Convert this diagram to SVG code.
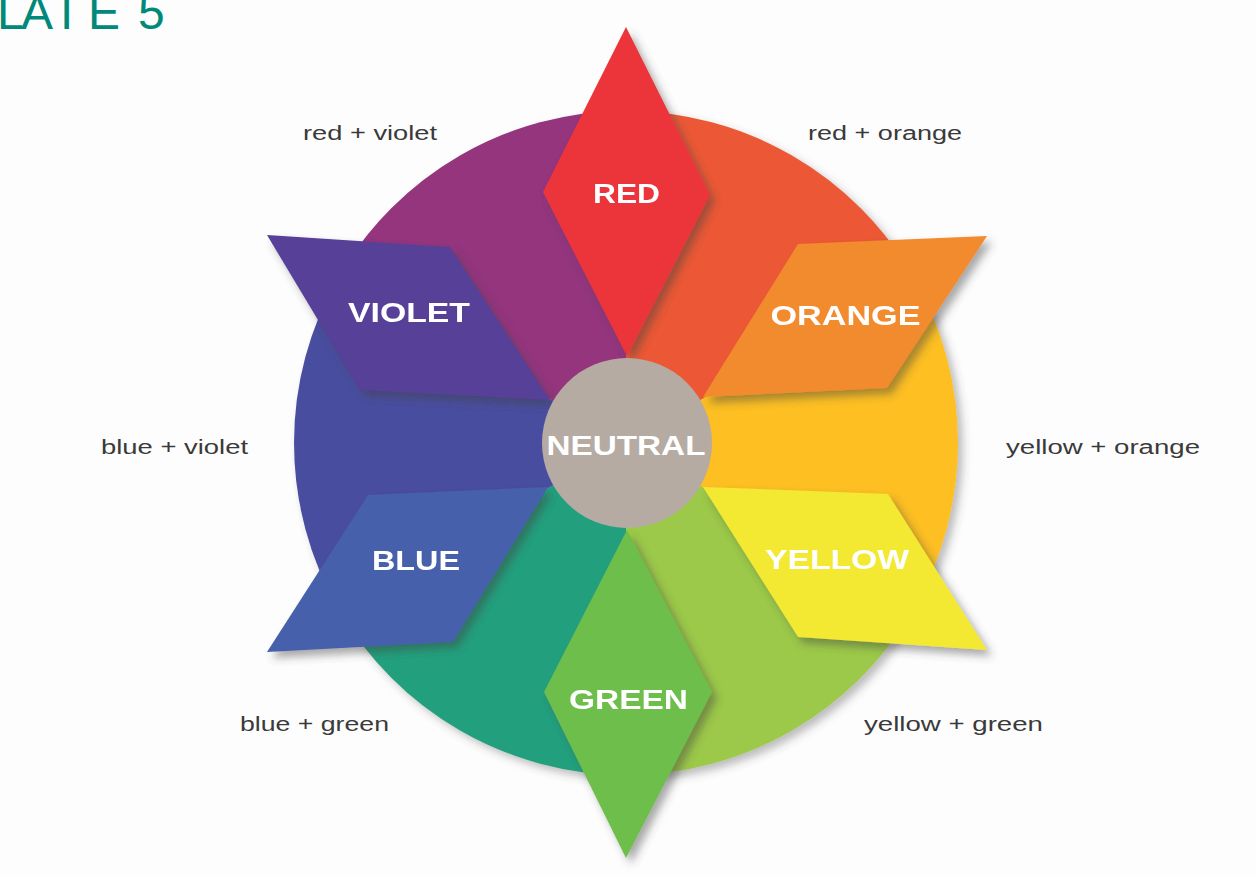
<svg xmlns="http://www.w3.org/2000/svg" width="1256" height="875" viewBox="0 0 1256 875">
<style>
.lbl{font-family:"Liberation Sans",Arial,sans-serif;font-size:20px;fill:#3a3a3a;}
.pl{font-family:"Liberation Sans",Arial,sans-serif;font-weight:bold;font-size:27px;fill:#ffffff;text-anchor:middle;}
.title{font-family:"Liberation Sans",Arial,sans-serif;font-size:48px;fill:#00897b;}
</style>
<defs>
<filter id="sh" x="-20%" y="-20%" width="150%" height="150%">
<feDropShadow dx="5" dy="6" stdDeviation="4" flood-color="#404040" flood-opacity="0.45"/>
</filter>
<filter id="shc" x="-10%" y="-10%" width="125%" height="125%">
<feDropShadow dx="5" dy="5" stdDeviation="4" flood-color="#404040" flood-opacity="0.35"/>
</filter>
</defs>
<rect width="1256" height="875" fill="#fdfdfd"/>
<text class="title" x="-3 21 52 88 115 138" y="29">LATE 5</text>

<g id="wheel" filter="url(#shc)">
<path id="sector-red-violet" d="M626 443 L626 111 A332 332 0 0 0 338.5 277 Z" fill="#94347e"/>
<path id="sector-red-orange" d="M626 443 L913.5 277 A332 332 0 0 0 626 111 Z" fill="#ec5935"/>
<path id="sector-yellow-orange" d="M626 443 L913.5 609 A332 332 0 0 0 913.5 277 Z" fill="#fdbf24"/>
<path id="sector-yellow-green" d="M626 443 L626 775 A332 332 0 0 0 913.5 609 Z" fill="#9cc94a"/>
<path id="sector-blue-green" d="M626 443 L338.5 609 A332 332 0 0 0 626 775 Z" fill="#22a07e"/>
<path id="sector-blue-violet" d="M626 443 L338.5 277 A332 332 0 0 0 338.5 609 Z" fill="#4a4d9f"/>
</g>

<g id="red" filter="url(#sh)">
<polygon points="626,27 710,195 627,356 543,192" fill="#ec353a"/>
<text class="pl" x="626.5" y="203" textLength="67" lengthAdjust="spacingAndGlyphs">RED</text>
</g>
<g id="orange" filter="url(#sh)">
<polygon points="798,244 987,236 887,388 703,397" fill="#f28a2e"/>
<text class="pl" x="845.5" y="325" textLength="150" lengthAdjust="spacingAndGlyphs">ORANGE</text>
</g>
<g id="yellow" filter="url(#sh)">
<polygon points="703,487 888,494 987,650 798,637" fill="#f3e933"/>
<text class="pl" x="837" y="569" textLength="144" lengthAdjust="spacingAndGlyphs">YELLOW</text>
</g>
<g id="green" filter="url(#sh)">
<polygon points="627,530 712,692 626,858 544,692" fill="#6dbe4b"/>
<text class="pl" x="628.5" y="709" textLength="119" lengthAdjust="spacingAndGlyphs">GREEN</text>
</g>
<g id="blue" filter="url(#sh)">
<polygon points="368,495 548,487 453,642 267,652" fill="#4660ab"/>
<text class="pl" x="416" y="570" textLength="88" lengthAdjust="spacingAndGlyphs">BLUE</text>
</g>
<g id="violet" filter="url(#sh)">
<polygon points="267,235 450,247 550,400 360,390" fill="#573f98"/>
<text class="pl" x="409" y="322" textLength="122" lengthAdjust="spacingAndGlyphs">VIOLET</text>
</g>
<g id="neutral">
<circle cx="627" cy="443" r="85" fill="#b5aba2"/>
<text class="pl" x="626" y="455" font-size="30" textLength="159" lengthAdjust="spacingAndGlyphs">NEUTRAL</text>
</g>

<g id="labels">
<text class="lbl" x="303" y="140" textLength="134" lengthAdjust="spacingAndGlyphs">red + violet</text>
<text class="lbl" x="808" y="140" textLength="154" lengthAdjust="spacingAndGlyphs">red + orange</text>
<text class="lbl" x="101" y="454" textLength="147" lengthAdjust="spacingAndGlyphs">blue + violet</text>
<text class="lbl" x="1006" y="454" textLength="194" lengthAdjust="spacingAndGlyphs">yellow + orange</text>
<text class="lbl" x="240" y="731" textLength="149" lengthAdjust="spacingAndGlyphs">blue + green</text>
<text class="lbl" x="864" y="731" textLength="179" lengthAdjust="spacingAndGlyphs">yellow + green</text>
</g>
</svg>
